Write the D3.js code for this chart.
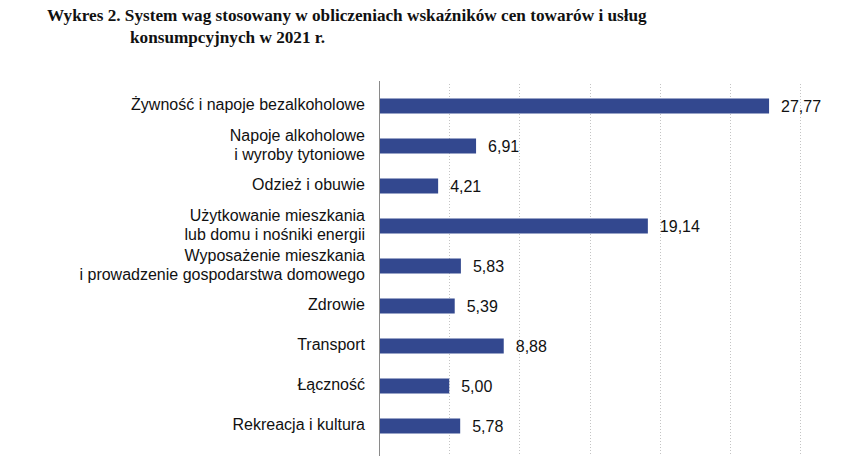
<!DOCTYPE html>
<html><head><meta charset="utf-8">
<script src="https://cdn.jsdelivr.net/npm/d3@7"></script>
<style>body{margin:0;background:#fff}svg{display:block}</style>
</head><body>
<script>
const titleLines = ["Wykres 2. System wag stosowany w obliczeniach wskaźników cen towarów i usług", "konsumpcyjnych w 2021 r."];
const categories = [
  "Żywność i napoje bezalkoholowe",
  "Napoje alkoholowe\ni wyroby tytoniowe",
  "Odzież i obuwie",
  "Użytkowanie mieszkania\nlub domu i nośniki energii",
  "Wyposażenie mieszkania\ni prowadzenie gospodarstwa domowego",
  "Zdrowie",
  "Transport",
  "Łączność",
  "Rekreacja i kultura"
];
const values = [27.77, 6.91, 4.21, 19.14, 5.83, 5.39, 8.88, 5.00, 5.78];
const gridTicks = [5, 10, 15, 20, 25, 30];

const W = 865, H = 456;
const svg = d3.select("body").append("svg").attr("width", W).attr("height", H);

// title
const t = svg.append("text").attr("font-family", "'Liberation Serif', serif")
  .attr("font-weight", "bold").attr("font-size", 17.2).attr("fill", "#111");
t.append("tspan").attr("x", 47).attr("y", 21).text(titleLines[0]);
t.append("tspan").attr("x", 130).attr("y", 43).text(titleLines[1]);

const x = d3.scaleLinear().domain([0, 30]).range([379, 800.4]);
const y = d3.scaleBand().domain(categories).range([86, 446]).paddingInner(0.625).paddingOuter(0.3125);

// gridlines
svg.append("g").selectAll("line").data(gridTicks).join("line")
  .attr("x1", d => Math.round(x(d)) + 0.5).attr("x2", d => Math.round(x(d)) + 0.5)
  .attr("y1", 84).attr("y2", H)
  .attr("stroke", "#c4c4c4").attr("stroke-width", 1).attr("stroke-dasharray", "1,2");

// bars
svg.append("g").selectAll("rect").data(values).join("rect")
  .attr("x", x(0)).attr("y", (d, i) => y(categories[i]))
  .attr("width", d => x(d) - x(0)).attr("height", y.bandwidth())
  .attr("fill", "#33488f");

// axis line
svg.append("line").attr("x1", 379.5).attr("x2", 379.5).attr("y1", 81).attr("y2", H)
  .attr("stroke", "#8a8a8a").attr("stroke-width", 1);

// category labels
const lab = svg.append("g").attr("font-family", "'Liberation Sans', Arial, sans-serif")
  .attr("font-size", 16).attr("fill", "#111").attr("text-anchor", "end");
categories.forEach((c, i) => {
  const lines = c.split("\n");
  const cy = y(c) + y.bandwidth() / 2;
  const lh = 19;
  const txt = lab.append("text");
  lines.forEach((l, j) => {
    txt.append("tspan").attr("x", 365)
      .attr("y", cy - 1.5 + (j - (lines.length - 1) / 2) * lh)
      .attr("dy", "0.35em").text(l);
  });
});

// value labels
svg.append("g").attr("font-family", "'Liberation Sans', Arial, sans-serif")
  .attr("font-size", 16).attr("fill", "#111")
  .selectAll("text").data(values).join("text")
  .attr("x", d => x(d) + 12).attr("y", (d, i) => y(categories[i]) + y.bandwidth() / 2)
  .attr("dy", "0.35em").text(d => d3.format(".2f")(d).replace(".", ","));
</script>
</body></html>
